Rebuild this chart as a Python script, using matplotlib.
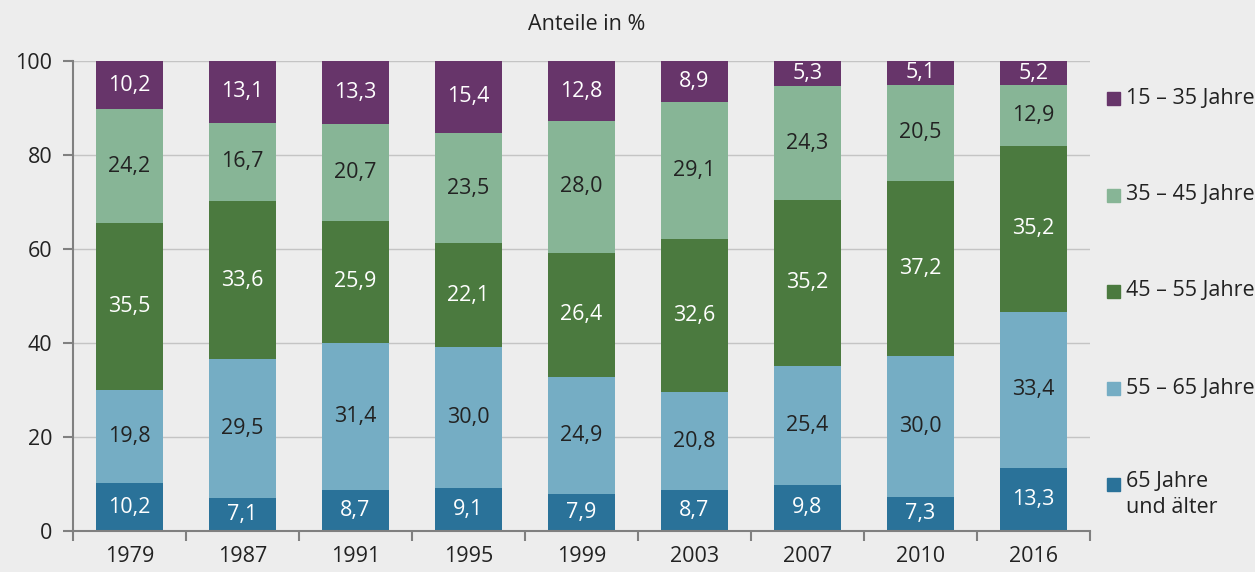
import matplotlib
matplotlib.use('Agg')
import matplotlib.pyplot as plt
from matplotlib.patches import Rectangle
import numpy as np

plt.rcParams['font.family'] = ['Open Sans', 'DejaVu Sans']

years = ['1979', '1987', '1991', '1995', '1999', '2003', '2007', '2010', '2016']
groups = ['65 Jahre\nund älter', '55 – 65 Jahre', '45 – 55 Jahre', '35 – 45 Jahre', '15 – 35 Jahre']
v65 = [10.2, 7.1, 8.7, 9.1, 7.9, 8.7, 9.8, 7.3, 13.3]
v55 = [19.8, 29.5, 31.4, 30.0, 24.9, 20.8, 25.4, 30.0, 33.4]
v45 = [35.5, 33.6, 25.9, 22.1, 26.4, 32.6, 35.2, 37.2, 35.2]
v35 = [24.2, 16.7, 20.7, 23.5, 28.0, 29.1, 24.3, 20.5, 12.9]
v15 = [10.2, 13.1, 13.3, 15.4, 12.8, 8.9, 5.3, 5.1, 5.2]

series = [v65, v55, v45, v35, v15]
colors = ['#2a7299', '#75adc4', '#4b7a3f', '#87b596', '#67356a']
txt_colors = ['white', '#222222', 'white', '#222222', 'white']

fs = 15.5
bg = '#ededed'
fig = plt.figure(figsize=(12.55, 5.72), dpi=100, facecolor=bg)
ax = fig.add_axes([73 / 1255, 41 / 572, 1017 / 1255, 470 / 572])
ax.set_facecolor(bg)

x = np.arange(len(years))
bottom = np.zeros(len(years))
for vals, c, tc in zip(series, colors, txt_colors):
    vals = np.array(vals)
    ax.bar(x, vals, width=0.59, bottom=bottom, color=c, zorder=2)
    for xi, b, v in zip(x, bottom, vals):
        ax.text(xi, b + v / 2, f'{v:.1f}'.replace('.', ','), ha='center', va='center',
                color=tc, fontsize=fs, zorder=3)
    bottom += vals

ax.set_xlim(-0.5, len(years) - 0.5)
ax.set_ylim(0, 100)
ax.set_yticks([0, 20, 40, 60, 80, 100])
ax.grid(axis='y', color='#c4c4c4', linewidth=1, zorder=0)
ax.set_xticks(x)
ax.set_xticklabels(years)
ax.set_xticks(np.arange(-0.5, len(years)), minor=True)
ax.tick_params(axis='x', which='major', length=0, pad=11, labelsize=fs, labelcolor='#222222')
ax.tick_params(axis='x', which='minor', length=7, width=1.5, color='#808080', direction='out')
ax.tick_params(axis='y', length=7, width=1.5, color='#808080', labelsize=fs,
               labelcolor='#222222', pad=8)
for s in ['top', 'right']:
    ax.spines[s].set_visible(False)
for s in ['left', 'bottom']:
    ax.spines[s].set_color('#808080')
    ax.spines[s].set_linewidth(1.5)

fig.text(587 / 1255, 1 - 25 / 572, 'Anteile in %', ha='center', va='center',
         fontsize=fs, color='#222222')

# legend, drawn by hand
leg_y = [484, 388, 291, 195, 98]
for lbl, c, yy in zip(groups, colors, leg_y):
    fig.patches.append(Rectangle((1107 / 1255, 1 - (yy + 6.5) / 572), 13 / 1255, 13 / 572,
                                 transform=fig.transFigure, color=c))
    if '\n' in lbl:
        fig.text(1126 / 1255, 1 - (yy - 13) / 572, lbl, ha='left', va='top',
                 fontsize=fs, color='#222222', linespacing=1.3)
    else:
        fig.text(1126 / 1255, 1 - yy / 572, lbl, ha='left', va='center',
                 fontsize=fs, color='#222222')

plt.savefig('out.png', dpi=100, facecolor=bg)
